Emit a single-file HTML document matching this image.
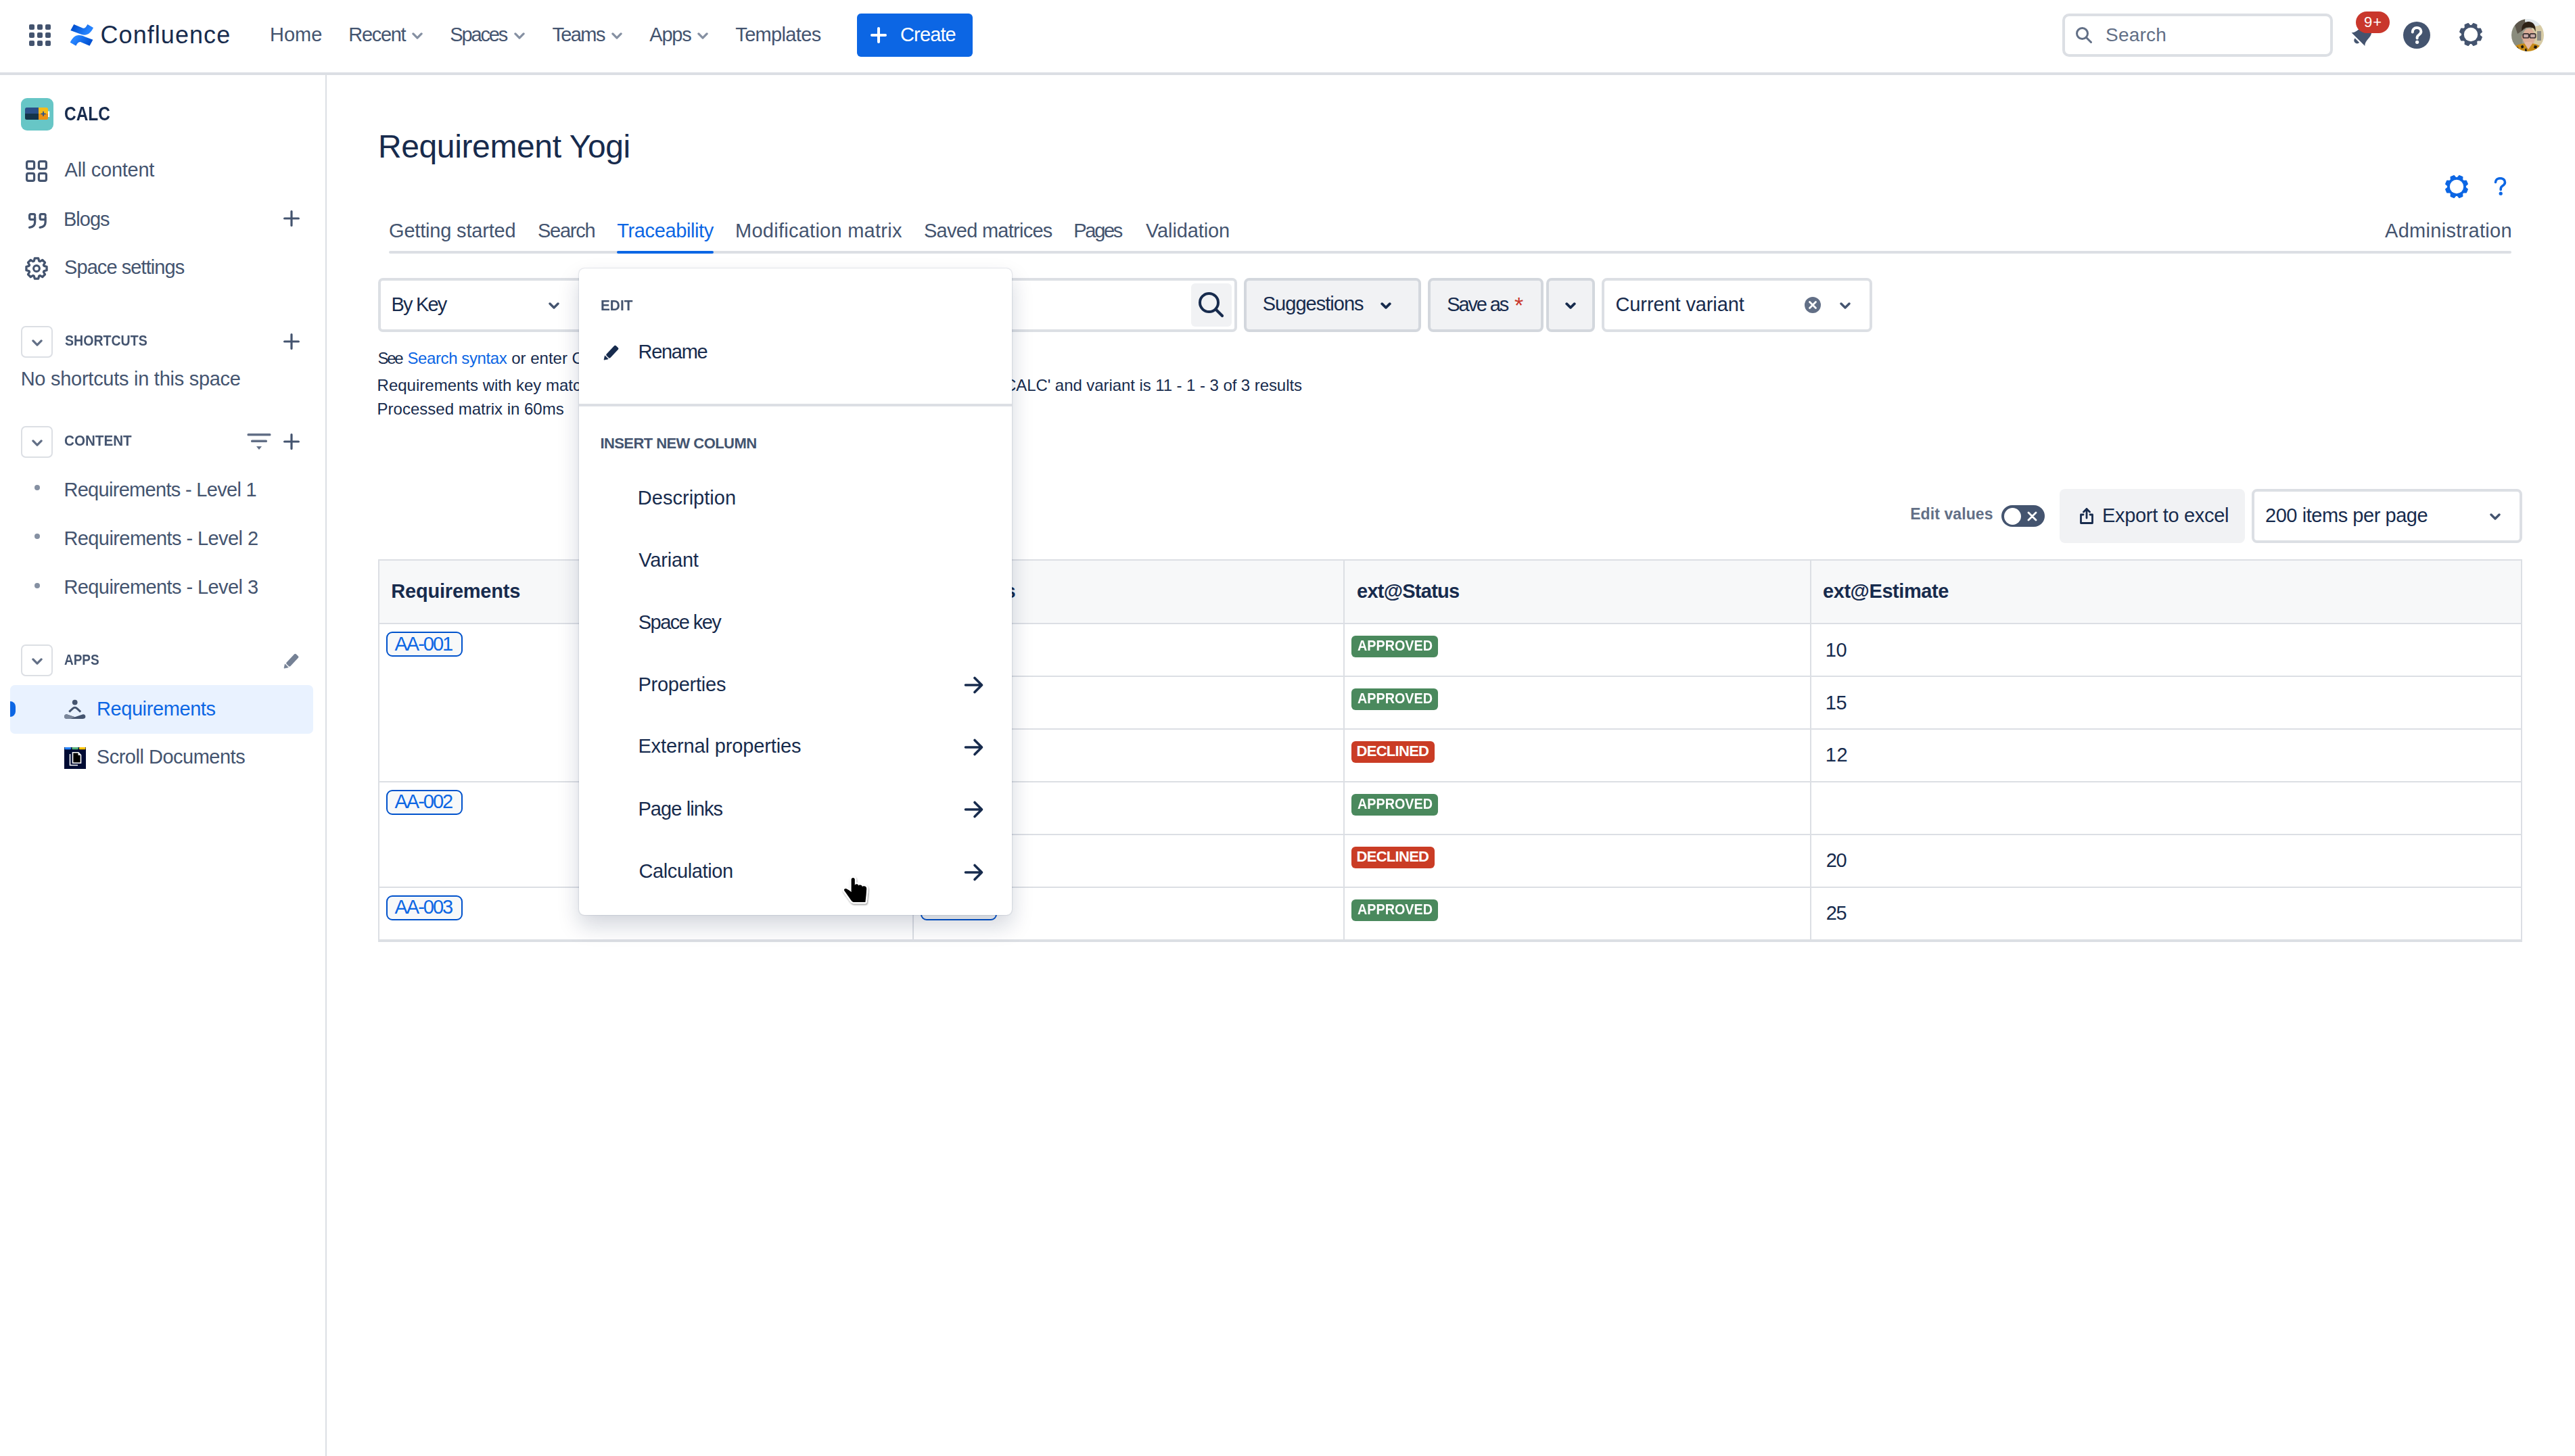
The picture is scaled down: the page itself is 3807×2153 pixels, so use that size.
<!DOCTYPE html><html><head><meta charset="utf-8"><style>
*{box-sizing:border-box;margin:0;padding:0}
html,body{width:3807px;height:2153px;overflow:hidden;background:#fff;font-family:"Liberation Sans",sans-serif;}
.a{position:absolute}
.t{position:absolute;white-space:pre;line-height:1;}
</style></head><body><div class="a" style="left:0;top:107px;width:3807px;height:4px;background:#DCDFE4"></div>
<div class="a" style="left:43px;top:36px;width:8px;height:8px;border-radius:2px;background:#44546F"></div>
<div class="a" style="left:55px;top:36px;width:8px;height:8px;border-radius:2px;background:#44546F"></div>
<div class="a" style="left:67px;top:36px;width:8px;height:8px;border-radius:2px;background:#44546F"></div>
<div class="a" style="left:43px;top:48px;width:8px;height:8px;border-radius:2px;background:#44546F"></div>
<div class="a" style="left:55px;top:48px;width:8px;height:8px;border-radius:2px;background:#44546F"></div>
<div class="a" style="left:67px;top:48px;width:8px;height:8px;border-radius:2px;background:#44546F"></div>
<div class="a" style="left:43px;top:60px;width:8px;height:8px;border-radius:2px;background:#44546F"></div>
<div class="a" style="left:55px;top:60px;width:8px;height:8px;border-radius:2px;background:#44546F"></div>
<div class="a" style="left:67px;top:60px;width:8px;height:8px;border-radius:2px;background:#44546F"></div>
<svg class="a" style="left:98px;top:30px" width="46" height="44" viewBox="0 0 46 44">
<defs><linearGradient id="lg1" gradientUnits="userSpaceOnUse" x1="12" y1="7" x2="30" y2="20"><stop offset="0" stop-color="#0050D0"/><stop offset="1" stop-color="#2684FF"/></linearGradient></defs>
<path id="lgU" d="M11.2 6 L24.2 11.6 C27 12.6 29.5 10 31.4 6 L40 11 C37 17 33 21.7 27 21.7 C24 21.7 21.5 20.8 18.5 19.6 L6.3 15.1 Z" fill="url(#lg1)"/>
<path d="M11.2 6 L24.2 11.6 C27 12.6 29.5 10 31.4 6 L40 11 C37 17 33 21.7 27 21.7 C24 21.7 21.5 20.8 18.5 19.6 L6.3 15.1 Z" fill="url(#lg1)" transform="rotate(180 22.85 21.9)"/></svg>
<span class="t" style="left:148.5px;top:34.0px;font-size:36.00px;color:#172B4D;letter-spacing:1.06px;">Confluence</span><span class="t" style="left:399.0px;top:37.0px;font-size:29.00px;color:#44546F;">Home</span><span class="t" style="left:515.3px;top:37.0px;font-size:29.00px;color:#44546F;letter-spacing:-1.32px;">Recent</span><span class="t" style="left:665.3px;top:37.0px;font-size:29.00px;color:#44546F;letter-spacing:-2.16px;">Spaces</span><span class="t" style="left:816.4px;top:37.0px;font-size:29.00px;color:#44546F;letter-spacing:-1.60px;">Teams</span><span class="t" style="left:960.3px;top:37.0px;font-size:29.00px;color:#44546F;letter-spacing:-1.23px;">Apps</span><span class="t" style="left:1087.3px;top:37.0px;font-size:29.00px;color:#44546F;letter-spacing:-0.66px;">Templates</span>
<svg class="a" style="left:609px;top:48px" width="16" height="10" viewBox="0 0 16 10"><path d="M1.9000000000000001 1.9000000000000001 L8.0 8.1 L14.1 1.9000000000000001" fill="none" stroke="#8590A2" stroke-width="3.2" stroke-linecap="round" stroke-linejoin="round"/></svg>
<svg class="a" style="left:760px;top:48px" width="16" height="10" viewBox="0 0 16 10"><path d="M1.9000000000000001 1.9000000000000001 L8.0 8.1 L14.1 1.9000000000000001" fill="none" stroke="#8590A2" stroke-width="3.2" stroke-linecap="round" stroke-linejoin="round"/></svg>
<svg class="a" style="left:904px;top:48px" width="16" height="10" viewBox="0 0 16 10"><path d="M1.9000000000000001 1.9000000000000001 L8.0 8.1 L14.1 1.9000000000000001" fill="none" stroke="#8590A2" stroke-width="3.2" stroke-linecap="round" stroke-linejoin="round"/></svg>
<svg class="a" style="left:1031px;top:48px" width="16" height="10" viewBox="0 0 16 10"><path d="M1.9000000000000001 1.9000000000000001 L8.0 8.1 L14.1 1.9000000000000001" fill="none" stroke="#8590A2" stroke-width="3.2" stroke-linecap="round" stroke-linejoin="round"/></svg>
<div class="a" style="left:1267px;top:20px;width:171px;height:64px;border-radius:6px;background:#0C66E4"></div>
<div class="a" style="left:1287px;top:50px;width:24px;height:4px;border-radius:2px;background:#fff"></div>
<div class="a" style="left:1297px;top:40px;width:4px;height:24px;border-radius:2px;background:#fff"></div>
<span class="t" style="left:1331.0px;top:37.0px;font-size:29.00px;color:#FFFFFF;letter-spacing:-0.86px;">Create</span>
<div class="a" style="left:3049px;top:20px;width:400px;height:64px;border:4px solid #DCDFE4;border-radius:10px;background:#fff"></div>
<svg class="a" style="left:3068px;top:39px" width="26" height="26" viewBox="0 0 26 26"><circle cx="10.5" cy="10.5" r="8" fill="none" stroke="#626F86" stroke-width="3"/><path d="M16.5 16.5 L23.5 23.5" stroke="#626F86" stroke-width="3" stroke-linecap="round"/></svg>
<span class="t" style="left:3113.0px;top:38.0px;font-size:28.01px;color:#626F86;letter-spacing:0.20px;">Search</span>
<svg class="a" style="left:3466px;top:26px" width="48" height="48" viewBox="0 0 48 48"><g transform="translate(20.5 32.2) rotate(45)" fill="#44546F">
<path d="M-14 0 L14 0 C12 -1.5 10.8 -4 10.2 -8 L9.6 -14 C9 -20.5 5 -24 0 -24 C-5 -24 -9 -20.5 -9.6 -14 L-10.2 -8 C-10.8 -4 -12 -1.5 -14 0Z"/>
<path d="M-4.6 2.3 L4.6 2.3 A4.6 4.6 0 0 1 -4.6 2.3Z"/></g></svg>
<div class="a" style="left:3483px;top:17px;width:50px;height:32px;border-radius:16px;background:#C9372C"></div>
<span class="t" style="left:3495.0px;top:22.0px;font-size:22.00px;color:#FFFFFF;letter-spacing:1.00px;">9+</span>
<svg class="a" style="left:3553px;top:32px" width="40" height="40" viewBox="0 0 40 40"><circle cx="20" cy="20" r="20" fill="#44546F"/>
<path d="M13.8 15.5 C13.8 11.5 16.6 9 20.2 9 C23.8 9 26.4 11.3 26.4 14.6 C26.4 17.3 24.7 18.6 22.9 19.8 C21.4 20.8 20.6 21.6 20.6 23.8 L20.6 24.6" fill="none" stroke="#fff" stroke-width="4" stroke-linecap="round"/>
<circle cx="20.6" cy="30.3" r="2.6" fill="#fff"/></svg>
<svg class="a" style="left:3632.5px;top:31.3px" width="40" height="40" viewBox="0 0 40 40"><path d="M21.27 6.86 L23.88 3.86 L28.67 5.85 L28.40 9.81 L30.19 11.60 L34.15 11.33 L36.14 16.12 L33.14 18.73 L33.14 21.27 L36.14 23.88 L34.15 28.67 L30.19 28.40 L28.40 30.19 L28.67 34.15 L23.88 36.14 L21.27 33.14 L18.73 33.14 L16.12 36.14 L11.33 34.15 L11.60 30.19 L9.81 28.40 L5.85 28.67 L3.86 23.88 L6.86 21.27 L6.86 18.73 L3.86 16.12 L5.85 11.33 L9.81 11.60 L11.60 9.81 L11.33 5.85 L16.12 3.86 L18.73 6.86Z" fill="#44546F" stroke="#44546F" stroke-width="1.6" stroke-linejoin="round"/><circle cx="20.0" cy="20.0" r="10.2" fill="#fff"/></svg>
<svg class="a" style="left:3713px;top:28px" width="48" height="48" viewBox="0 0 48 48"><defs><clipPath id="av"><circle cx="24" cy="24" r="24"/></clipPath>
<filter id="avb"><feGaussianBlur stdDeviation="0.7"/></filter></defs>
<g clip-path="url(#av)"><g filter="url(#avb)"><rect width="48" height="48" fill="#9c9d8e"/><rect x="0" y="0" width="16" height="48" fill="#8a8c7d"/>
<path d="M4 6 L20 0 L21 14 L9 22Z" fill="#50493f" opacity="0.8"/><rect x="30" y="0" width="18" height="48" fill="#d7cba5"/><ellipse cx="34" cy="2" rx="14" ry="9" fill="#e3e9ec"/>
<rect x="38" y="18" width="6" height="14" fill="#5b6370" opacity="0.6"/>
<ellipse cx="25.8" cy="27" rx="9.3" ry="13" fill="#dcae98"/><ellipse cx="16.8" cy="27" rx="1.8" ry="3" fill="#d29c86"/>
<path d="M15.5 18 C14 9 19.5 3.5 26 4 C32.5 4.5 36.5 9.5 35.6 19 L33.6 14.5 C29.5 11.8 21.5 12 17.5 15Z" fill="#2e2019"/>
<rect x="17.3" y="21.8" width="8.4" height="6.2" rx="1.8" fill="#b9a7b8" fill-opacity="0.5" stroke="#3b3232" stroke-width="1.7"/><rect x="27.3" y="21.8" width="8.4" height="6.2" rx="1.8" fill="#b9a7b8" fill-opacity="0.5" stroke="#3b3232" stroke-width="1.7"/>
<path d="M25.7 24 L27.3 24" stroke="#3b3232" stroke-width="1.5"/>
<path d="M0 48 L2 42 C7 38.5 13 36.8 19.5 36.3 L25 45 L31 36.3 C37 37 42 39.5 46 43 L48 48Z" fill="#c88b16"/>
<path d="M5 44 L9 41 L11 44 L7 47Z M14 40 L17 38.5 L18.5 42 L15 44Z M34 39 L38 40 L37 44 L33 43Z M41 43 L44 44 L43 48 L40 47Z M20 45 L22 43 L23 48 L20 48Z" fill="#1d1510"/>
<path d="M19.5 36.3 L25 45 L31 36.3 L30 34 L21 34Z" fill="#e6b9a3"/></g></g></svg>
<div class="a" style="left:481px;top:111px;width:2px;height:2042px;background:#DCDFE4"></div>
<svg class="a" style="left:31px;top:145px" width="48" height="48" viewBox="0 0 48 48"><rect width="48" height="48" rx="9" fill="#67C6C6"/>
<path d="M6 16.5 Q6 14 8.5 14 L26 14 L26 23 L6 23Z" fill="#2B5088"/><path d="M6 23 L26 23 L26 32 L8.5 32 Q6 32 6 29.5Z" fill="#14344A"/>
<path d="M26 14 L37.5 14 Q40 14 40 16.5 L40 23 L26 23Z" fill="#F6BC1A"/><path d="M26 23 L40 23 L40 29.5 Q40 32 37.5 32 L26 32Z" fill="#EB9114"/>
<rect x="40" y="19.5" width="2.2" height="8.5" fill="#fff"/><path d="M29.5 23.3 L36.5 23.3 M33 19.8 L33 26.8" stroke="#2B5088" stroke-width="1.8"/></svg>
<span class="t" style="left:95.2px;top:154.0px;font-size:29.00px;color:#172B4D;font-weight:700;transform:scaleX(0.8430);transform-origin:0 0;">CALC</span><span class="t" style="left:95.6px;top:237.0px;font-size:29.00px;color:#44546F;letter-spacing:-0.26px;">All content</span><span class="t" style="left:94.0px;top:310.0px;font-size:29.00px;color:#44546F;letter-spacing:-1.00px;">Blogs</span><span class="t" style="left:95.0px;top:381.0px;font-size:29.00px;color:#44546F;letter-spacing:-0.92px;">Space settings</span>
<svg class="a" style="left:38px;top:237px" width="32" height="32" viewBox="0 0 32 32" fill="none" stroke="#44546F" stroke-width="3.2">
<rect x="1.6" y="1.6" width="11" height="11" rx="2.4"/><rect x="19.4" y="1.6" width="11" height="11" rx="2.4"/><rect x="1.6" y="19.4" width="11" height="11" rx="2.4"/><rect x="19.4" y="19.4" width="11" height="11" rx="2.4"/></svg>
<svg class="a" style="left:40px;top:313px" width="31" height="26" viewBox="0 0 31 26" fill="none" stroke="#44546F" stroke-width="3.3" stroke-linecap="round" stroke-linejoin="round">
<path d="M11.65 8 L11.65 15.5 C11.65 20.5 8.5 22.8 3.6 23.3 M11.65 11.6 L5.6 11.6 Q3.65 11.6 3.65 9.6 L3.65 5.6 Q3.65 3.65 5.6 3.65 L9.7 3.65 Q11.65 3.65 11.65 5.6"/>
<path d="M27.15 8 L27.15 15.5 C27.15 20.5 24 22.8 19.1 23.3 M27.15 11.6 L21.1 11.6 Q19.15 11.6 19.15 9.6 L19.15 5.6 Q19.15 3.65 21.1 3.65 L25.2 3.65 Q27.15 3.65 27.15 5.6"/></svg>
<svg class="a" style="left:419px;top:311px" width="24" height="24" viewBox="0 0 24 24"><path d="M12.0 1.6 L12.0 22.4 M1.6 12.0 L22.4 12.0" stroke="#44546F" stroke-width="3.2" stroke-linecap="round"/></svg>
<svg class="a" style="left:34px;top:376.5px" width="40" height="40" viewBox="0 0 40 40"><path d="M16.22 9.03 L17.34 4.93 L22.66 4.93 L23.78 9.03 L25.09 9.57 L28.78 7.47 L32.53 11.22 L30.43 14.91 L30.97 16.22 L35.07 17.34 L35.07 22.66 L30.97 23.78 L30.43 25.09 L32.53 28.78 L28.78 32.53 L25.09 30.43 L23.78 30.97 L22.66 35.07 L17.34 35.07 L16.22 30.97 L14.91 30.43 L11.22 32.53 L7.47 28.78 L9.57 25.09 L9.03 23.78 L4.93 22.66 L4.93 17.34 L9.03 16.22 L9.57 14.91 L7.47 11.22 L11.22 7.47 L14.91 9.57Z" fill="none" stroke="#44546F" stroke-width="3.3" stroke-linejoin="round"/><circle cx="20" cy="20" r="4.4" fill="none" stroke="#44546F" stroke-width="3.1"/></svg>
<div class="a" style="left:31px;top:481.5px;width:47px;height:47px;border:2px solid #DCDFE4;border-radius:7px;background:#fff"></div><svg class="a" style="left:47px;top:501.5px" width="16" height="10" viewBox="0 0 16 10"><path d="M1.9000000000000001 1.9000000000000001 L8.0 8.1 L14.1 1.9000000000000001" fill="none" stroke="#626F86" stroke-width="3.2" stroke-linecap="round" stroke-linejoin="round"/></svg>
<div class="a" style="left:31px;top:629.5px;width:47px;height:47px;border:2px solid #DCDFE4;border-radius:7px;background:#fff"></div><svg class="a" style="left:47px;top:649.5px" width="16" height="10" viewBox="0 0 16 10"><path d="M1.9000000000000001 1.9000000000000001 L8.0 8.1 L14.1 1.9000000000000001" fill="none" stroke="#626F86" stroke-width="3.2" stroke-linecap="round" stroke-linejoin="round"/></svg>
<div class="a" style="left:31px;top:953px;width:47px;height:47px;border:2px solid #DCDFE4;border-radius:7px;background:#fff"></div><svg class="a" style="left:47px;top:973px" width="16" height="10" viewBox="0 0 16 10"><path d="M1.9000000000000001 1.9000000000000001 L8.0 8.1 L14.1 1.9000000000000001" fill="none" stroke="#626F86" stroke-width="3.2" stroke-linecap="round" stroke-linejoin="round"/></svg>
<span class="t" style="left:95.7px;top:493.0px;font-size:22.00px;color:#44546F;font-weight:700;transform:scaleX(0.8890);transform-origin:0 0;">SHORTCUTS</span><span class="t" style="left:30.7px;top:546.0px;font-size:29.00px;color:#44546F;letter-spacing:-0.27px;">No shortcuts in this space</span><span class="t" style="left:95.1px;top:641.0px;font-size:22.00px;color:#44546F;font-weight:700;transform:scaleX(0.9377);transform-origin:0 0;">CONTENT</span>
<svg class="a" style="left:419px;top:493px" width="24" height="24" viewBox="0 0 24 24"><path d="M12.0 1.6 L12.0 22.4 M1.6 12.0 L22.4 12.0" stroke="#44546F" stroke-width="3.2" stroke-linecap="round"/></svg>
<svg class="a" style="left:419px;top:641px" width="24" height="24" viewBox="0 0 24 24"><path d="M12.0 1.6 L12.0 22.4 M1.6 12.0 L22.4 12.0" stroke="#44546F" stroke-width="3.2" stroke-linecap="round"/></svg>
<svg class="a" style="left:365px;top:640px" width="36" height="26" viewBox="0 0 36 26" fill="#626F86">
<rect x="0.5" y="1" width="35" height="3.6" rx="1.5"/><rect x="6" y="10.5" width="24" height="3.6" rx="1.5"/><path d="M14 20 L22 20 L18 25Z"/></svg>
<div class="a" style="left:51px;top:717px;width:8px;height:8px;border-radius:50%;background:#8590A2"></div>
<div class="a" style="left:51px;top:789px;width:8px;height:8px;border-radius:50%;background:#8590A2"></div>
<div class="a" style="left:51px;top:861.5px;width:8px;height:8px;border-radius:50%;background:#8590A2"></div>
<span class="t" style="left:94.4px;top:710.0px;font-size:29.00px;color:#44546F;letter-spacing:-0.69px;">Requirements - Level 1</span><span class="t" style="left:94.4px;top:782.0px;font-size:29.00px;color:#44546F;letter-spacing:-0.58px;">Requirements - Level 2</span><span class="t" style="left:94.4px;top:854.0px;font-size:29.00px;color:#44546F;letter-spacing:-0.58px;">Requirements - Level 3</span><span class="t" style="left:95.4px;top:965.0px;font-size:22.00px;color:#44546F;font-weight:700;transform:scaleX(0.8627);transform-origin:0 0;">APPS</span>
<svg class="a" style="left:413.2px;top:960px" width="36" height="36" viewBox="0 0 36 36"><rect x="-10.15" y="-3.95" width="20.3" height="7.9" rx="1.8" transform="translate(19.3 16.1) rotate(-46.5)" fill="#758195"/><path d="M8.4 21.9 L13.2 26.8 L7.1 28.1Z" fill="#758195" stroke="#758195" stroke-width="0.8" stroke-linejoin="round"/></svg>
<div class="a" style="left:15px;top:1013px;width:448px;height:72px;border-radius:7px;background:#E9F2FF"></div>
<div class="a" style="left:7px;top:1037px;width:16px;height:23px;border-radius:8px;background:#0C66E4"></div>
<div class="a" style="left:0;top:1030px;width:15px;height:40px;background:#fff"></div>
<svg class="a" style="left:94px;top:1033px" width="34" height="32" viewBox="0 0 34 32">
<circle cx="16.7" cy="5.6" r="3.9" fill="#44546F"/>
<path d="M8.2 19.6 L13.6 14.6 C15.4 12.9 18 12.9 19.8 14.6 L25.2 19.6" fill="none" stroke="#44546F" stroke-width="3" stroke-linecap="butt"/>
<path d="M1 26.7 C1 24 3 22.8 5.5 23.4 L16.7 27.2 L28 23.4 C30.5 22.8 32.4 24 32.4 26.7 C32.4 29 30.5 30 28 30 L5.5 30 C3 30 1 29 1 26.7Z" fill="#44546F"/>
<path d="M1 26.7 C1 24 3 22.8 5.5 23.4 L16.7 27.2 L10.5 30 L5.5 30 C3 30 1 29 1 26.7Z" fill="#7A869A"/></svg>
<svg class="a" style="left:95px;top:1105px" width="32" height="32" viewBox="0 0 32 32">
<rect width="32" height="32" fill="#000B33"/><rect x="0.5" y="0" width="9.5" height="3.2" rx="1.2" fill="#2684FF"/><rect x="11.3" y="0" width="9.5" height="3.2" rx="1.2" fill="#57B27A"/><rect x="22" y="0" width="9.5" height="3.2" rx="1.2" fill="#FFC400"/>
<path d="M8.5 10 L8.5 26.5 L20 26.5" fill="none" stroke="#fff" stroke-width="1.6"/>
<path d="M12.5 7.8 L20.8 7.8 L24.5 11.5 L24.5 23.3 L12.5 23.3 Z" fill="#000" stroke="#fff" stroke-width="1.6"/><path d="M20.5 8 L20.5 11.8 L24.3 11.8" fill="#fff"/></svg>
<span class="t" style="left:142.9px;top:1034.0px;font-size:29.00px;color:#0C66E4;letter-spacing:-0.40px;">Requirements</span><span class="t" style="left:142.8px;top:1105.0px;font-size:29.00px;color:#44546F;letter-spacing:-0.49px;">Scroll Documents</span>
<span class="t" style="left:558.9px;top:193.0px;font-size:48.00px;color:#172B4D;letter-spacing:-0.37px;">Requirement Yogi</span>
<div class="a" style="left:575px;top:371px;width:3138px;height:4px;border-radius:2px;background:#DCDFE4"></div>
<div class="a" style="left:912px;top:370.5px;width:143px;height:4.5px;border-radius:2.5px;background:#0C66E4"></div>
<span class="t" style="left:575.0px;top:327.0px;font-size:29.00px;color:#44546F;letter-spacing:-0.18px;">Getting started</span><span class="t" style="left:795.0px;top:327.0px;font-size:29.00px;color:#44546F;letter-spacing:-1.26px;">Search</span><span class="t" style="left:912.3px;top:327.0px;font-size:29.00px;color:#0C66E4;letter-spacing:-0.39px;">Traceability</span><span class="t" style="left:1087.0px;top:327.0px;font-size:29.00px;color:#44546F;letter-spacing:0.26px;">Modification matrix</span><span class="t" style="left:1366.0px;top:327.0px;font-size:29.00px;color:#44546F;letter-spacing:-0.73px;">Saved matrices</span><span class="t" style="left:1587.3px;top:327.0px;font-size:29.00px;color:#44546F;letter-spacing:-2.32px;">Pages</span><span class="t" style="left:1694.0px;top:327.0px;font-size:29.00px;color:#44546F;letter-spacing:-0.11px;">Validation</span><span class="t" style="left:3526.0px;top:327.0px;font-size:29.00px;color:#44546F;letter-spacing:0.29px;">Administration</span>
<svg class="a" style="left:3612.4px;top:256.4px" width="40" height="40" viewBox="0 0 40 40"><path d="M21.27 6.86 L23.88 3.86 L28.67 5.85 L28.40 9.81 L30.19 11.60 L34.15 11.33 L36.14 16.12 L33.14 18.73 L33.14 21.27 L36.14 23.88 L34.15 28.67 L30.19 28.40 L28.40 30.19 L28.67 34.15 L23.88 36.14 L21.27 33.14 L18.73 33.14 L16.12 36.14 L11.33 34.15 L11.60 30.19 L9.81 28.40 L5.85 28.67 L3.86 23.88 L6.86 21.27 L6.86 18.73 L3.86 16.12 L5.85 11.33 L9.81 11.60 L11.60 9.81 L11.33 5.85 L16.12 3.86 L18.73 6.86Z" fill="#0C66E4" stroke="#0C66E4" stroke-width="1.6" stroke-linejoin="round"/><circle cx="20.0" cy="20.0" r="10.2" fill="#fff"/></svg>
<svg class="a" style="left:3687px;top:262px" width="20" height="28" viewBox="0 0 20 28"><path d="M2.5 7.5 C2.5 4 5 1.7 9.5 1.7 C14 1.7 16.5 4.3 16.5 7.5 C16.5 10.5 14.6 11.8 12.6 13 C11 14 10.2 15 10.2 17.5 L10.2 18.5" fill="none" stroke="#0C66E4" stroke-width="3.6" stroke-linecap="round"/><circle cx="10.2" cy="24.2" r="2.6" fill="#0C66E4"/></svg>
<div class="a" style="left:559px;top:411px;width:320px;height:80px;border:4px solid #DCDFE4;border-radius:7px;background:#fff"></div>
<svg class="a" style="left:811px;top:447px" width="16" height="10" viewBox="0 0 16 10"><path d="M2.0 2.0 L8.0 8.0 L14.0 2.0" fill="none" stroke="#44546F" stroke-width="3.4" stroke-linecap="round" stroke-linejoin="round"/></svg>
<span class="t" style="left:578.5px;top:436.0px;font-size:29.00px;color:#172B4D;letter-spacing:-1.80px;">By Key</span>
<div class="a" style="left:889px;top:411px;width:940px;height:80px;border:4px solid #DCDFE4;border-radius:7px;background:#fff"></div>
<div class="a" style="left:1761px;top:419px;width:60px;height:64px;border-radius:6px;background:#F1F2F4"></div>
<svg class="a" style="left:1771px;top:431px" width="40" height="40" viewBox="0 0 40 40"><circle cx="16.5" cy="16.5" r="13.5" fill="none" stroke="#172B4D" stroke-width="4"/><path d="M26.5 26.5 L36 36" stroke="#172B4D" stroke-width="4.2" stroke-linecap="round"/></svg>
<div class="a" style="left:1839px;top:411px;width:262px;height:80px;border:4px solid #D3D7DD;border-radius:8px;background:#F1F2F4"></div>
<div class="a" style="left:2111px;top:411px;width:171px;height:80px;border:4px solid #D3D7DD;border-radius:8px;background:#F1F2F4"></div>
<div class="a" style="left:2286px;top:411px;width:72px;height:80px;border:4px solid #D3D7DD;border-radius:8px;background:#F1F2F4"></div>
<svg class="a" style="left:2041px;top:446.5px" width="16" height="10" viewBox="0 0 16 10"><path d="M2.1999999999999997 2.1999999999999997 L8.0 7.8 L13.799999999999999 2.1999999999999997" fill="none" stroke="#172B4D" stroke-width="3.8" stroke-linecap="round" stroke-linejoin="round"/></svg>
<svg class="a" style="left:2314px;top:447px" width="16" height="10" viewBox="0 0 16 10"><path d="M2.1999999999999997 2.1999999999999997 L8.0 7.8 L13.799999999999999 2.1999999999999997" fill="none" stroke="#172B4D" stroke-width="3.8" stroke-linecap="round" stroke-linejoin="round"/></svg>
<span class="t" style="left:1866.7px;top:435.0px;font-size:29.00px;color:#172B4D;letter-spacing:-0.97px;">Suggestions</span><span class="t" style="left:2139.2px;top:436.0px;font-size:29.00px;color:#172B4D;letter-spacing:-2.12px;">Save as</span>
<span class="t" style="left:2239px;top:434px;font-size:34px;color:#C9372C;">*</span>
<div class="a" style="left:2368px;top:411px;width:400px;height:80px;border:4px solid #DCDFE4;border-radius:8px;background:#fff"></div>
<span class="t" style="left:2388.5px;top:436.0px;font-size:29.00px;color:#172B4D;letter-spacing:-0.11px;">Current variant</span>
<svg class="a" style="left:2668px;top:439px" width="24" height="24" viewBox="0 0 24 24"><circle cx="12" cy="12" r="12" fill="#626F86"/><path d="M7.5 7.5 L16.5 16.5 M16.5 7.5 L7.5 16.5" stroke="#fff" stroke-width="2.8" stroke-linecap="round"/></svg>
<svg class="a" style="left:2720px;top:447px" width="16" height="10" viewBox="0 0 16 10"><path d="M2.0 2.0 L8.0 8.0 L14.0 2.0" fill="none" stroke="#44546F" stroke-width="3.4" stroke-linecap="round" stroke-linejoin="round"/></svg>
<span class="t" style="left:558.6px;top:518.0px;font-size:24.00px;color:#172B4D;letter-spacing:-2.35px;">See</span><span class="t" style="left:602.4px;top:518.0px;font-size:24.00px;color:#0C66E4;letter-spacing:-0.39px;">Search syntax</span><span class="t" style="left:756.2px;top:518.0px;font-size:24.00px;color:#172B4D;">or enter CQL</span><span class="t" style="left:557.6px;top:558.0px;font-size:24.00px;color:#172B4D;">Requirements with key matching</span><span class="t" style="left:1485.0px;top:558.0px;font-size:24.00px;color:#172B4D;letter-spacing:-0.07px;">CALC' and variant is 11 - 1 - 3 of 3 results</span><span class="t" style="left:557.6px;top:593.0px;font-size:24.00px;color:#172B4D;">Processed matrix in 60ms</span>
<span class="t" style="left:2824.2px;top:749.0px;font-size:23.00px;color:#626F86;font-weight:700;letter-spacing:0.08px;">Edit values</span>
<div class="a" style="left:2959px;top:747px;width:64px;height:32px;border-radius:16px;background:#44546F"></div>
<div class="a" style="left:2962.5px;top:750.5px;width:25px;height:25px;border-radius:50%;background:#fff"></div>
<svg class="a" style="left:2997px;top:756px" width="15" height="15" viewBox="0 0 15 15"><path d="M2 2 L13 13 M13 2 L2 13" stroke="#fff" stroke-width="2.8" stroke-linecap="round"/></svg>
<div class="a" style="left:3045px;top:723px;width:274px;height:80px;border-radius:8px;background:#F1F2F4"></div>
<svg class="a" style="left:3074px;top:750px" width="22" height="26" viewBox="0 0 22 26" fill="none" stroke="#172B4D" stroke-width="2.8" stroke-linecap="round" stroke-linejoin="round"><path d="M6 11 L2.5 11 L2.5 23.5 L19.5 23.5 L19.5 11 L16 11"/><path d="M11 16 L11 2.5 M6.5 7 L11 2.5 L15.5 7"/></svg>
<span class="t" style="left:3108.0px;top:748.0px;font-size:29.00px;color:#172B4D;letter-spacing:-0.31px;">Export to excel</span>
<div class="a" style="left:3329px;top:723px;width:400px;height:80px;border:4px solid #DCDFE4;border-radius:8px;background:#fff"></div>
<svg class="a" style="left:3681px;top:759px" width="16" height="10" viewBox="0 0 16 10"><path d="M2.0 2.0 L8.0 8.0 L14.0 2.0" fill="none" stroke="#44546F" stroke-width="3.4" stroke-linecap="round" stroke-linejoin="round"/></svg>
<span class="t" style="left:3349.0px;top:748.0px;font-size:29.00px;color:#172B4D;letter-spacing:-0.45px;">200 items per page</span>
<div class="a" style="left:559px;top:827px;width:3170px;height:95px;background:#F7F8F9"></div>
<div class="a" style="left:559px;top:827px;width:3170px;height:566px;border:2px solid #DCDFE4;border-bottom-width:4px"></div>
<div class="a" style="left:559px;top:921px;width:3170px;height:2px;background:#DCDFE4"></div>
<div class="a" style="left:1349px;top:827px;width:2px;height:566px;background:#DCDFE4"></div>
<div class="a" style="left:1986px;top:827px;width:2px;height:566px;background:#DCDFE4"></div>
<div class="a" style="left:2675.5px;top:827px;width:2px;height:566px;background:#DCDFE4"></div>
<div class="a" style="left:1350px;top:999px;width:2379px;height:2px;background:#DCDFE4"></div>
<div class="a" style="left:1350px;top:1077px;width:2379px;height:2px;background:#DCDFE4"></div>
<div class="a" style="left:559px;top:1154.7px;width:3170px;height:2px;background:#DCDFE4"></div>
<div class="a" style="left:1350px;top:1232.5px;width:2379px;height:2px;background:#DCDFE4"></div>
<div class="a" style="left:559px;top:1310.8px;width:3170px;height:2px;background:#DCDFE4"></div>
<span class="t" style="left:578.3px;top:860.0px;font-size:29.00px;color:#172B4D;font-weight:700;letter-spacing:-0.21px;">Requirements</span><span class="t" style="left:1305.0px;top:860.0px;font-size:29.00px;color:#172B4D;font-weight:700;">Dependencies</span><span class="t" style="left:2006.0px;top:860.0px;font-size:29.00px;color:#172B4D;font-weight:700;letter-spacing:-0.74px;">ext@Status</span><span class="t" style="left:2695.0px;top:860.0px;font-size:29.00px;color:#172B4D;font-weight:700;letter-spacing:-0.43px;">ext@Estimate</span>
<div class="a" style="left:571px;top:934px;width:113px;height:37px;border:2.5px solid #0052CC;border-radius:9px;background:#F7F8F9"></div>
<span class="t" style="left:583.5px;top:938.0px;font-size:29.00px;color:#0C66E4;letter-spacing:-2.00px;">AA-001</span>
<div class="a" style="left:571px;top:1168px;width:113px;height:37px;border:2.5px solid #0052CC;border-radius:9px;background:#F7F8F9"></div>
<span class="t" style="left:583.5px;top:1171.0px;font-size:29.00px;color:#0C66E4;letter-spacing:-2.00px;">AA-002</span>
<div class="a" style="left:571px;top:1324px;width:113px;height:37px;border:2.5px solid #0052CC;border-radius:9px;background:#F7F8F9"></div>
<span class="t" style="left:583.5px;top:1327.0px;font-size:29.00px;color:#0C66E4;letter-spacing:-2.00px;">AA-003</span>
<div class="a" style="left:1361px;top:934.5px;width:113px;height:37px;border:2.5px solid #0052CC;border-radius:9px;background:#F7F8F9"></div>
<div class="a" style="left:1361px;top:1012.5px;width:113px;height:37px;border:2.5px solid #0052CC;border-radius:9px;background:#F7F8F9"></div>
<div class="a" style="left:1361px;top:1090.5px;width:113px;height:37px;border:2.5px solid #0052CC;border-radius:9px;background:#F7F8F9"></div>
<div class="a" style="left:1361px;top:1168.2px;width:113px;height:37px;border:2.5px solid #0052CC;border-radius:9px;background:#F7F8F9"></div>
<div class="a" style="left:1361px;top:1246.0px;width:113px;height:37px;border:2.5px solid #0052CC;border-radius:9px;background:#F7F8F9"></div>
<div class="a" style="left:1361px;top:1324.3px;width:113px;height:37px;border:2.5px solid #0052CC;border-radius:9px;background:#F7F8F9"></div>
<div class="a" style="left:1998px;top:940px;width:128px;height:32px;border-radius:6px;background:#4A895D"></div>
<span class="t" style="left:2006.5px;top:944.0px;font-size:22.00px;color:#FFFFFF;font-weight:700;transform:scaleX(0.8984);transform-origin:0 0;">APPROVED</span>
<div class="a" style="left:1998px;top:1018px;width:128px;height:32px;border-radius:6px;background:#4A895D"></div>
<span class="t" style="left:2006.5px;top:1022.0px;font-size:22.00px;color:#FFFFFF;font-weight:700;transform:scaleX(0.8984);transform-origin:0 0;">APPROVED</span>
<div class="a" style="left:1998px;top:1096px;width:123px;height:32px;border-radius:6px;background:#CA3C25"></div>
<span class="t" style="left:2005.5px;top:1100.0px;font-size:22.00px;color:#FFFFFF;font-weight:700;letter-spacing:-0.71px;">DECLINED</span>
<div class="a" style="left:1998px;top:1173.7px;width:128px;height:32px;border-radius:6px;background:#4A895D"></div>
<span class="t" style="left:2006.5px;top:1178.0px;font-size:22.00px;color:#FFFFFF;font-weight:700;transform:scaleX(0.8984);transform-origin:0 0;">APPROVED</span>
<div class="a" style="left:1998px;top:1251.5px;width:123px;height:32px;border-radius:6px;background:#CA3C25"></div>
<span class="t" style="left:2005.5px;top:1256.0px;font-size:22.00px;color:#FFFFFF;font-weight:700;letter-spacing:-0.71px;">DECLINED</span>
<div class="a" style="left:1998px;top:1329.8px;width:128px;height:32px;border-radius:6px;background:#4A895D"></div>
<span class="t" style="left:2006.5px;top:1334.0px;font-size:22.00px;color:#FFFFFF;font-weight:700;transform:scaleX(0.8984);transform-origin:0 0;">APPROVED</span>
<span class="t" style="left:2698.8px;top:947.0px;font-size:29.00px;color:#172B4D;letter-spacing:-0.50px;">10</span><span class="t" style="left:2698.8px;top:1025.0px;font-size:29.00px;color:#172B4D;letter-spacing:-0.50px;">15</span><span class="t" style="left:2698.8px;top:1102.0px;font-size:29.00px;color:#172B4D;letter-spacing:0.50px;">12</span><span class="t" style="left:2699.8px;top:1258.0px;font-size:29.00px;color:#172B4D;letter-spacing:-1.50px;">20</span><span class="t" style="left:2699.8px;top:1336.0px;font-size:29.00px;color:#172B4D;letter-spacing:-1.50px;">25</span>
<div class="a" style="left:856px;top:396.5px;width:640px;height:956.5px;border-radius:8px;background:#fff;box-shadow:0 0 2px rgba(9,30,66,0.31),0 16px 32px rgba(9,30,66,0.18)"></div>
<div class="a" style="left:856px;top:597px;width:640px;height:4px;background:#DCDFE4"></div>
<svg class="a" style="left:886px;top:504px" width="36" height="36" viewBox="0 0 36 36"><rect x="-10.15" y="-3.95" width="20.3" height="7.9" rx="1.8" transform="translate(19.3 16.1) rotate(-46.5)" fill="#172B4D"/><path d="M8.4 21.9 L13.2 26.8 L7.1 28.1Z" fill="#172B4D" stroke="#172B4D" stroke-width="0.8" stroke-linejoin="round"/></svg>
<span class="t" style="left:888.3px;top:441.0px;font-size:22.00px;color:#44546F;font-weight:700;transform:scaleX(0.9449);transform-origin:0 0;">EDIT</span><span class="t" style="left:943.6px;top:506.0px;font-size:29.00px;color:#172B4D;letter-spacing:-1.32px;">Rename</span><span class="t" style="left:887.4px;top:645.0px;font-size:22.00px;color:#44546F;font-weight:700;letter-spacing:-0.57px;">INSERT NEW COLUMN</span><span class="t" style="left:942.8px;top:722.0px;font-size:29.00px;color:#172B4D;letter-spacing:0.02px;">Description</span><span class="t" style="left:944.2px;top:814.0px;font-size:29.00px;color:#172B4D;letter-spacing:-0.17px;">Variant</span><span class="t" style="left:943.8px;top:906.0px;font-size:29.00px;color:#172B4D;letter-spacing:-1.56px;">Space key</span><span class="t" style="left:943.4px;top:998.0px;font-size:29.00px;color:#172B4D;letter-spacing:-0.24px;">Properties</span><span class="t" style="left:943.4px;top:1089.0px;font-size:29.00px;color:#172B4D;letter-spacing:-0.13px;">External properties</span><span class="t" style="left:943.4px;top:1182.0px;font-size:29.00px;color:#172B4D;letter-spacing:-0.91px;">Page links</span><span class="t" style="left:944.4px;top:1274.0px;font-size:29.00px;color:#172B4D;letter-spacing:-0.37px;">Calculation</span>
<svg class="a" style="left:1425px;top:999px" width="30" height="28" viewBox="0 0 30 28" fill="none" stroke="#172B4D" stroke-width="3.6" stroke-linecap="round" stroke-linejoin="round"><path d="M2.5 14 L26.5 14 M16 3.5 L26.5 14 L16 24.5"/></svg>
<svg class="a" style="left:1425px;top:1091px" width="30" height="28" viewBox="0 0 30 28" fill="none" stroke="#172B4D" stroke-width="3.6" stroke-linecap="round" stroke-linejoin="round"><path d="M2.5 14 L26.5 14 M16 3.5 L26.5 14 L16 24.5"/></svg>
<svg class="a" style="left:1425px;top:1183px" width="30" height="28" viewBox="0 0 30 28" fill="none" stroke="#172B4D" stroke-width="3.6" stroke-linecap="round" stroke-linejoin="round"><path d="M2.5 14 L26.5 14 M16 3.5 L26.5 14 L16 24.5"/></svg>
<svg class="a" style="left:1425px;top:1275.5px" width="30" height="28" viewBox="0 0 30 28" fill="none" stroke="#172B4D" stroke-width="3.6" stroke-linecap="round" stroke-linejoin="round"><path d="M2.5 14 L26.5 14 M16 3.5 L26.5 14 L16 24.5"/></svg>
<svg class="a" style="left:1236px;top:1290px;overflow:visible" width="54" height="54" viewBox="0 0 54 54">
<defs><filter id="csh" x="-30%" y="-30%" width="160%" height="160%"><feDropShadow dx="0.8" dy="1.6" stdDeviation="0.9" flood-color="#000" flood-opacity="0.45"/></filter></defs>
<path filter="url(#csh)" d="M22.6 10.5 C22.6 7 27.8 7 27.8 10.5 L27.8 19.3 C28.4 16.6 33 16.6 33.3 19.8 C33.8 17.8 38.6 17.8 39 21.4 C39.6 19.6 45.2 19.8 45.2 24 L44.6 33 L43.4 44 L26.5 44 C24.2 44 22.8 42.3 21.4 40 L12.6 27.6 C10.8 25.2 13.2 23.2 15.8 24.4 C18.5 25.6 20.5 27 22.6 29 Z" fill="#000" stroke="#fff" stroke-width="4.6" stroke-linejoin="round" paint-order="stroke"/></svg></body></html>
